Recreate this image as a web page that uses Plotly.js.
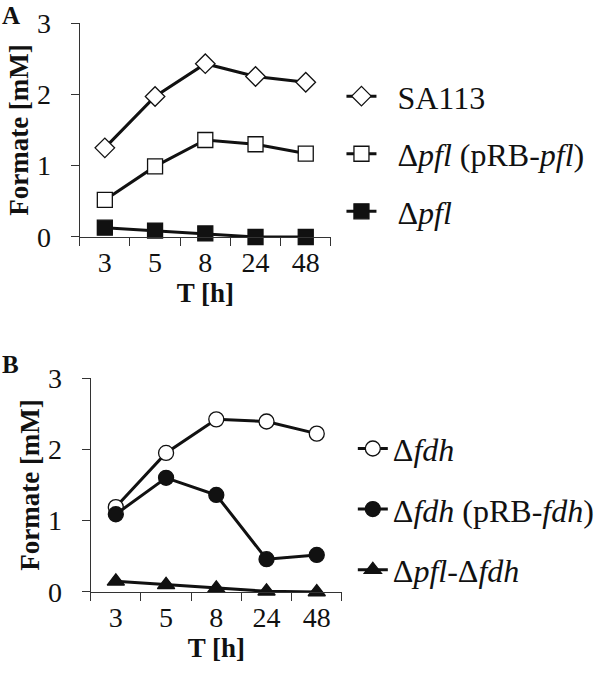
<!DOCTYPE html>
<html>
<head>
<meta charset="utf-8">
<script src="https://cdn.plot.ly/plotly-3.0.1.min.js"></script>
<style>
  html, body { margin: 0; padding: 0; background: #fff; }
  #graph { width: 600px; height: 675px; }
</style>
</head>
<body>
<div id="graph"></div>
<script>
const hours = ["3", "5", "8", "24", "48"];

// panel A
const sa113 = [1.25, 1.97, 2.43, 2.25, 2.17];
const pflComp = [0.52, 0.99, 1.36, 1.30, 1.17];
const pflMut = [0.13, 0.09, 0.05, 0.0, 0.0];

// panel B
const fdhMut = [1.19, 1.95, 2.42, 2.39, 2.22];
const fdhComp = [1.09, 1.60, 1.36, 0.46, 0.52];
const pflFdh = [0.15, 0.10, 0.05, 0.01, 0.0];

const serif = "Liberation Serif";
const ink = "#111";

function series(y, name, symbol, fill, xa, ya, leg) {
  return {
    x: hours,
    y: y,
    name: name,
    xaxis: xa,
    yaxis: ya,
    legend: leg,
    legendgroup: name,
    type: "scatter",
    mode: "lines+markers",
    cliponaxis: false,
    line: { color: ink, width: 3 },
    marker: {
      symbol: symbol,
      size: 15,
      color: fill,
      line: { color: ink, width: 1.3 },
    },
  };
}

// en space in front of the A legend names pushes the text off the symbol
let data = [
  series(sa113, "\u2002SA113", "diamond", "#fff", "x", "y", "legend"),
  series(pflComp, "\u2002Δ<i>pfl</i> (pRB-<i>pfl</i>)", "square", "#fff", "x", "y", "legend"),
  series(pflMut, "\u2002Δ<i>pfl</i>", "square", ink, "x", "y", "legend"),
  series(fdhMut, "Δ<i>fdh</i>", "circle", "#fff", "x2", "y2", "legend2"),
  series(fdhComp, "Δ<i>fdh</i> (pRB-<i>fdh</i>)", "circle", ink, "x2", "y2", "legend2"),
  series(pflFdh, "Δ<i>pfl</i>-Δ<i>fdh</i>", "triangle-up", ink, "x2", "y2", "legend2"),
];

function xAxis(domain, anchor) {
  return {
    domain: domain,
    anchor: anchor,
    type: "category",
    range: [-0.5, 4.5],
    tickson: "boundaries",
    ticks: "outside",
    ticklen: 8,
    tickcolor: "#333",
    showline: true,
    linecolor: "#333",
    linewidth: 1,
    showgrid: false,
    zeroline: false,
    tickfont: { family: serif, size: 28, color: ink },
    title: { text: "<b>T [h]</b>", font: { family: serif, size: 27, color: ink }, standoff: 0 },
  };
}

function yAxis(domain, anchor) {
  return {
    domain: domain,
    anchor: anchor,
    range: [0, 3],
    dtick: 1,
    ticks: "outside",
    ticklen: 8,
    tickcolor: "#333",
    showline: true,
    linecolor: "#333",
    linewidth: 1,
    showgrid: false,
    zeroline: false,
    ticksuffix: "\u2002",
    tickfont: { family: serif, size: 28, color: ink },
    title: { text: "<b>Formate [mM]</b>", font: { family: serif, size: 27, color: ink }, standoff: 0 },
  };
}

function legendBox(x, y, gap) {
  return {
    x: x,
    y: y,
    xanchor: "left",
    yanchor: "top",
    bgcolor: "rgba(0,0,0,0)",
    font: { family: serif, size: 32, color: ink },
    tracegroupgap: gap,
  };
}

let layout = {
  width: 600,
  height: 675,
  paper_bgcolor: "#fff",
  plot_bgcolor: "#fff",
  font: { family: serif, color: ink },
  margin: { l: 0, r: 0, t: 0, b: 0 },
  showlegend: true,
  xaxis: xAxis([0.1333, 0.5533], "y"),
  yaxis: yAxis([0.6489, 0.9659], "x"),
  xaxis2: xAxis([0.1517, 0.5717], "y2"),
  yaxis2: yAxis([0.123, 0.44], "x2"),
  legend: legendBox(0.571, 0.898, 13),
  legend2: legendBox(0.59, 0.376, 16),
  annotations: [
    {
      text: "<b>A</b>", xref: "paper", yref: "paper", x: 0, y: 1,
      xanchor: "left", yanchor: "top", showarrow: false,
      font: { family: serif, size: 25, color: ink },
    },
    {
      text: "<b>B</b>", xref: "paper", yref: "paper", x: 0, y: 0.483,
      xanchor: "left", yanchor: "top", showarrow: false,
      font: { family: serif, size: 25, color: ink },
    },
  ],
};

Plotly.newPlot("graph", data, layout, { displayModeBar: false, staticPlot: true });
</script>
</body>
</html>
